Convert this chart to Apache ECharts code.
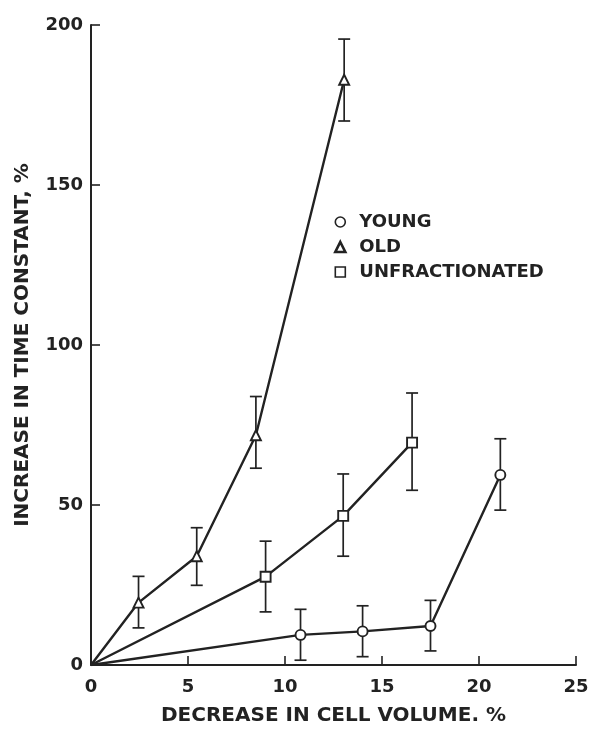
<!DOCTYPE html>
<html>
<head>
<meta charset="utf-8">
<script src="https://cdn.jsdelivr.net/npm/echarts@6/dist/echarts.min.js"></script>
<style>
html,body{margin:0;padding:0;background:#fff;}
#chart{width:592px;height:731px;}
</style>
</head>
<body>
<div id="chart"></div>
<script>
// ---- data ----
const xTicks = [0, 5, 10, 15, 20, 25];
const yTicks = [0, 50, 100, 150, 200];

const youngX  = [0, 10.8, 14.0, 17.5, 21.1];
const youngY  = [0, 9.4, 10.5, 12.2, 59.4];
const youngLo = [null, 1.5, 2.6, 4.4, 48.4];
const youngHi = [null, 17.4, 18.5, 20.2, 70.7];

const oldX  = [0, 2.45, 5.45, 8.5, 13.05];
const oldY  = [0, 19.5, 34.0, 71.8, 182.9];
const oldLo = [null, 11.6, 24.9, 61.5, 170.0];
const oldHi = [null, 27.7, 42.9, 83.9, 195.6];

const unfX  = [0, 9.0, 13.0, 16.55];
const unfY  = [0, 27.6, 46.6, 69.5];
const unfLo = [null, 16.6, 34.0, 54.6];
const unfHi = [null, 38.7, 59.7, 85.0];

const names = ['YOUNG', 'OLD', 'UNFRACTIONATED'];
const xTitle = 'DECREASE IN CELL VOLUME. %';
const yTitle = 'INCREASE IN TIME CONSTANT, %';

// ---- styling ----
const INK = '#222';
const FONT = 'DejaVu Sans';

function pts(xs, ys) {
  return xs.map((x, i) => i === 0 ? {value: [x, ys[i]], symbol: 'none'} : [x, ys[i]]);
}
function bars(xs, lo, hi) {
  const out = [];
  xs.forEach((x, i) => { if (lo[i] != null) out.push([x, lo[i], hi[i]]); });
  return out;
}
function errRender(params, api) {
  const x = api.value(0), lo = api.value(1), hi = api.value(2);
  const a = api.coord([x, lo]), b = api.coord([x, hi]);
  const st = {stroke: INK, lineWidth: 1.7};
  const w = 6;
  return {type: 'group', children: [
    {type: 'line', shape: {x1: a[0], y1: a[1], x2: b[0], y2: b[1]}, style: st},
    {type: 'line', shape: {x1: a[0] - w, y1: a[1], x2: a[0] + w, y2: a[1]}, style: st},
    {type: 'line', shape: {x1: b[0] - w, y1: b[1], x2: b[0] + w, y2: b[1]}, style: st}
  ]};
}
function lineSeries(name, xs, ys, symbol, size) {
  return {
    name: name, type: 'line', data: pts(xs, ys), symbol: symbol, symbolSize: size,
    showAllSymbol: true, z: 5,
    lineStyle: {color: INK, width: 2.4},
    itemStyle: {color: '#fff', borderColor: INK, borderWidth: 1.9},
    emphasis: {disabled: true}, animation: false
  };
}
function errSeries(xs, lo, hi) {
  return {
    type: 'custom', data: bars(xs, lo, hi), renderItem: errRender,
    encode: {x: 0, y: [1, 2]}, z: 3, silent: true, animation: false
  };
}

const chart = echarts.init(document.getElementById('chart'));
chart.setOption({
  backgroundColor: '#fff',
  animation: false,
  grid: {left: 91, right: 16, top: 25, bottom: 59, containLabel: false},
  xAxis: {
    type: 'value', min: xTicks[0], max: xTicks[xTicks.length - 1], interval: 5,
    name: xTitle, nameLocation: 'middle', nameGap: 41,
    nameTextStyle: {fontFamily: FONT, fontWeight: 'bold', fontSize: 20, color: INK},
    axisLine: {show: true, onZero: false, lineStyle: {color: INK, width: 2}},
    axisTick: {show: true, inside: true, length: 9, lineStyle: {color: INK, width: 1.6}},
    axisLabel: {fontFamily: FONT, fontWeight: 'bold', fontSize: 18, color: INK, margin: 13},
    splitLine: {show: false}
  },
  yAxis: {
    type: 'value', min: yTicks[0], max: yTicks[yTicks.length - 1], interval: 50,
    name: yTitle, nameLocation: 'middle', nameGap: 58, nameRotate: 90,
    nameTextStyle: {fontFamily: FONT, fontWeight: 'bold', fontSize: 20, color: INK},
    axisLine: {show: true, onZero: false, lineStyle: {color: INK, width: 2}},
    axisTick: {show: true, inside: true, length: 9, lineStyle: {color: INK, width: 1.6}},
    axisLabel: {fontFamily: FONT, fontWeight: 'bold', fontSize: 18, color: INK, margin: 8},
    splitLine: {show: false}
  },
  legend: {
    orient: 'vertical', left: 329, top: 208, itemWidth: 10, itemHeight: 10, itemGap: 7,
    selectedMode: false,
    textStyle: {fontFamily: FONT, fontWeight: 'bold', fontSize: 18, color: INK, padding: [0, 0, 0, 9]},
    data: [
      {name: names[0], icon: 'circle', itemStyle: {color: '#fff', borderColor: INK, borderWidth: 1.6}},
      {name: names[1], icon: 'triangle', itemStyle: {color: '#fff', borderColor: INK, borderWidth: 2.6}},
      {name: names[2], icon: 'rect', itemStyle: {color: '#fff', borderColor: INK, borderWidth: 1.6}}
    ]
  },
  series: [
    errSeries(youngX, youngLo, youngHi),
    errSeries(oldX, oldLo, oldHi),
    errSeries(unfX, unfLo, unfHi),
    lineSeries(names[0], youngX, youngY, 'circle', 10),
    lineSeries(names[1], oldX, oldY, 'triangle', 10),
    lineSeries(names[2], unfX, unfY, 'rect', 10)
  ]
});
</script>
</body>
</html>
